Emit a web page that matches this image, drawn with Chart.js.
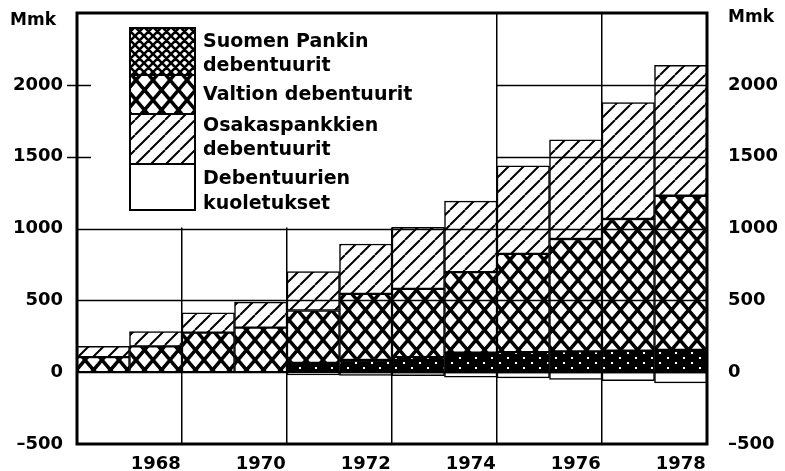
<!DOCTYPE html>
<html lang="fi">
<head>
<meta charset="utf-8">
<title>Debentuurit 1967–1978</title>
<script src="https://cdn.jsdelivr.net/npm/chart.js@4.4.1/dist/chart.umd.min.js"></script>
<style>
  html, body { margin: 0; padding: 0; background: #fff; }
  #wrap { width: 785px; height: 471px; }
</style>
</head>
<body>
<div id="wrap"><canvas id="chart" width="785" height="471"></canvas></div>
<script>
// Data (Mmk), luettu kuvasta
const years = ['1967', '1968', '1969', '1970', '1971', '1972', '1973', '1974', '1975', '1976', '1977', '1978'];
const suomenPankki = [null, null, null, null, 65, 85, 105, 135, 140, 145, 150, 155];
const valtio = [105, 180, 275, 310, 364, 460, 475, 561, 683, 782, 916, 1073];
const osakaspankit = [75, 103, 138, 178, 271, 347, 428, 494, 613, 690, 810, 907];
const kuoletukset = [null, null, null, null, -20, -22, -25, -35, -40, -50, -60, -75];
const yTicks = [-500, 0, 500, 1000, 1500, 2000, 2500];
const legendLines = [['Suomen Pankin', 'debentuurit'], ['Valtion debentuurit'], ['Osakaspankkien', 'debentuurit'], ['Debentuurien', 'kuoletukset']];

const canvas = document.getElementById('chart');
const mainCtx = canvas.getContext('2d');
const FONT = '"DejaVu Sans", sans-serif';

// --- kuviot (hatch patterns) ---
function makePattern(w, h, bg, draw) {
  const c = document.createElement('canvas');
  c.width = w; c.height = h;
  const g = c.getContext('2d');
  g.fillStyle = bg;
  g.fillRect(0, 0, w, h);
  draw(g, w, h);
  return mainCtx.createPattern(c, 'repeat');
}
function diag(g, w, h) {
  g.strokeStyle = '#000'; g.lineWidth = 2;
  g.beginPath();
  [-w, 0, w].forEach(o => { g.moveTo(o, h); g.lineTo(o + w, 0); });
  g.stroke();
}
function cross(lw) {
  return (g, w, h) => {
    g.strokeStyle = '#000'; g.lineWidth = lw;
    g.beginPath();
    [-w, 0, w].forEach(o => {
      g.moveTo(o, 0); g.lineTo(o + w, h);
      g.moveTo(o + w, 0); g.lineTo(o, h);
    });
    g.stroke();
  };
}
const diagPattern = makePattern(15, 15, '#fff', diag);
const crossPattern = makePattern(17, 20, '#fff', cross(3.5));
const densePattern = makePattern(16, 10, '#000', (g) => {
  g.fillStyle = '#fff';
  g.fillRect(3, 2, 2, 2);
  g.fillRect(11, 7, 2, 2);
});
const denseLegend = makePattern(9, 9, '#fff', cross(2.6));

// --- piirto-plugin: ruudukko, legenda, kehys ---
const decor = {
  id: 'decor',
  beforeDatasetsDraw(chart) {
    const { ctx, chartArea: a, scales: { x, y } } = chart;
    const split = (x.getPixelForValue(7) + x.getPixelForValue(8)) / 2;
    ctx.save();
    // legendan alue ilman ruudukkoa
    ctx.fillStyle = '#fff';
    ctx.fillRect(a.left + 14, a.top + 1, split - a.left - 15, y.getPixelForValue(1000) - a.top - 2);

    // legenda
    const sx = a.left + 53, sw = 65;
    const segs = [[15, 62, denseLegend], [62, 101, crossPattern], [101, 151, diagPattern], [151, 197, '#fff']];
    ctx.lineWidth = 2;
    ctx.strokeStyle = '#000';
    segs.forEach(([y0, y1, fill]) => {
      ctx.fillStyle = fill;
      ctx.fillRect(sx, a.top + y0, sw, y1 - y0);
      ctx.strokeRect(sx, a.top + y0, sw, y1 - y0);
    });
    ctx.fillStyle = '#000';
    ctx.font = 'bold 19px ' + FONT;
    ctx.textBaseline = 'middle';
    const rows = [29, 53, 82, 113, 137, 166, 191];
    let r = 0;
    legendLines.forEach(lines => lines.forEach(t => {
      ctx.fillText(t, sx + sw + 8, a.top + rows[r++]);
    }));
    ctx.restore();
  },
  afterDatasetsDraw(chart) {
    const { ctx, chartArea: a, scales: { x, y } } = chart;
    const split = (x.getPixelForValue(7) + x.getPixelForValue(8)) / 2;
    ctx.save();
    ctx.strokeStyle = '#000';
    ctx.lineWidth = 1.5;
    ctx.beginPath();
    yTicks.forEach(v => {
      if (v <= -500 || v >= 2500) return;
      const py = Math.round(y.getPixelForValue(v)) + 0.5;
      if (v > 1000) {
        ctx.moveTo(a.left - 10, py); ctx.lineTo(a.left + 14, py);
        ctx.moveTo(split, py); ctx.lineTo(a.right, py);
      } else {
        ctx.moveTo(a.left, py); ctx.lineTo(a.right, py);
      }
    });
    ctx.stroke();
    // paksu kehys
    ctx.lineWidth = 3;
    ctx.strokeRect(a.left, a.top, a.right - a.left, a.bottom - a.top);
    // yksikkö
    ctx.fillStyle = '#000';
    ctx.font = 'bold 17px ' + FONT;
    ctx.textBaseline = 'middle';
    ctx.fillText('Mmk', 10, 21);
    ctx.fillText('Mmk', 728, 18);
    ctx.restore();
  }
};

const tickLabel = v => v >= 2500 ? '' : (v < 0 ? '–' + Math.abs(v) : String(v));
const fitY = w => s => { s.width = w; s.paddingTop = 0; s.paddingBottom = 0; };

new Chart(mainCtx, {
  type: 'bar',
  data: {
    labels: years,
    datasets: [
      { label: 'Suomen Pankin debentuurit', data: suomenPankki, backgroundColor: densePattern },
      { label: 'Valtion debentuurit', data: valtio, backgroundColor: crossPattern },
      { label: 'Osakaspankkien debentuurit', data: osakaspankit, backgroundColor: diagPattern },
      { label: 'Debentuurien kuoletukset', data: kuoletukset, backgroundColor: '#fff' }
    ].map(d => Object.assign(d, {
      borderColor: '#000', borderWidth: 1.5, borderSkipped: false,
      barPercentage: 1, categoryPercentage: 1
    }))
  },
  options: {
    responsive: false,
    animation: false,
    layout: { padding: { top: 13, left: 0, right: 0, bottom: 0 } },
    plugins: { legend: { display: false }, tooltip: { enabled: false } },
    scales: {
      x: {
        stacked: true,
        afterFit: s => { s.height = 27; s.paddingLeft = 0; s.paddingRight = 0; },
        border: { display: false },
        grid: {
          drawTicks: false, lineWidth: 1.5,
          color: c => (c.index > 0 && c.index < 12 && c.index % 2 === 0) ? '#000' : 'rgba(0,0,0,0)'
        },
        ticks: {
          autoSkip: false, maxRotation: 0, padding: 10, color: '#000',
          font: { family: FONT, size: 18, weight: 'bold' },
          callback: (v, i) => Number(years[i]) % 2 === 0 ? years[i] : ''
        }
      },
      y: {
        stacked: true, min: -500, max: 2500,
        afterFit: fitY(77),
        border: { display: false },
        grid: { display: false, drawTicks: false },
        ticks: {
          stepSize: 500, padding: 14, color: '#000',
          font: { family: FONT, size: 18, weight: 'bold' },
          callback: tickLabel
        }
      },
      y2: {
        position: 'right', min: -500, max: 2500,
        afterFit: fitY(78),
        border: { display: false },
        grid: { display: false, drawTicks: false },
        ticks: {
          stepSize: 500, padding: 21, color: '#000',
          font: { family: FONT, size: 18, weight: 'bold' },
          callback: tickLabel
        }
      }
    }
  },
  plugins: [decor]
});
</script>
</body>
</html>
